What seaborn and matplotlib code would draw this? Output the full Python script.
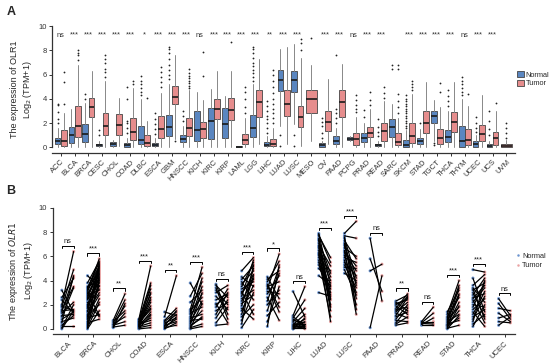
import matplotlib
matplotlib.use("Agg")
import matplotlib.pyplot as plt
from matplotlib.patches import Patch
import seaborn as sns
import pandas as pd

# ---- panel A: all TCGA cancers, normal vs tumor (box summaries) ----
cancers_a = ["ACC", "BLCA", "BRCA", "CESC", "CHOL", "COAD", "DLBC", "ESCA", "GBM",
             "HNSCC", "KICH", "KIRC", "KIRP", "LAML", "LGG", "LIHC", "LUAD", "LUSC",
             "MESO", "OV", "PAAD", "PCPG", "PRAD", "READ", "SARC", "SKCM", "STAD",
             "TGCT", "THCA", "THYM", "UCEC", "UCS", "UVM"]
sig_a = ["ns", "***", "***", "***", "***", "***", "*", "***", "***", "***", "ns", "***",
         "***", "***", "***", "**", "***", "***", "", "***", "***", "ns", "***", "***",
         "", "***", "***", "***", "***", "ns", "***", "***", ""]

# (whislo, q1, med, q3, whishi); None = no normal samples
normal_box = [
    (0, 0.25, 0.5, 0.8, 1.6), (0, 0.38, 1.0, 1.68, 3.2), (0, 0.45, 1.1, 1.95, 3.7),
    (0, 0.1, 0.2, 0.3, 0.5), (0, 0.1, 0.25, 0.45, 0.6), (0, 0.05, 0.2, 0.35, 0.8),
    (0, 0.25, 0.58, 1.8, 4.0), (0, 0.08, 0.2, 0.35, 0.8), (0, 0.9, 1.65, 2.65, 5.2),
    (0, 0.44, 0.72, 1.0, 1.8), (0, 0.52, 1.46, 3.0, 4.6), (0, 0.72, 2.2, 3.28, 4.8),
    (0, 0.8, 1.96, 3.28, 4.2), (0, 0.0, 0.04, 0.1, 0.15), (0, 0.85, 1.63, 2.64, 5.2),
    (0, 0.08, 0.2, 0.44, 0.9), (1.8, 4.64, 5.58, 6.35, 8.1), (1.9, 4.6, 5.52, 6.3, 8.5),
    None, (0, 0.05, 0.18, 0.33, 0.5), (0, 0.28, 0.55, 0.97, 1.6),
    (0.5, 0.6, 0.7, 0.83, 0.95), (0, 0.41, 0.77, 1.16, 2.0), (0, 0.08, 0.18, 0.28, 0.5),
    (0, 0.88, 1.66, 2.35, 3.6), (0, 0.05, 0.2, 0.6, 1.4), (0, 0.28, 0.5, 0.77, 1.5),
    (0.5, 2.05, 2.62, 3.02, 3.9), (0, 0.41, 0.83, 1.44, 3.0), (0, 0.05, 0.55, 1.8, 4.0),
    (0, 0.05, 0.25, 0.5, 1.0), (0, 0.05, 0.15, 0.28, 0.5), None,
]
normal_out = [
    [2.0, 2.3, 2.9, 3.5, 3.6], [], [4.0, 4.4], [1.0, 1.4], [],
    [1.2, 1.6, 2.0, 2.2, 4.0, 5.0], [4.3, 4.6, 4.9, 5.2, 5.5, 5.9], [1.1, 1.5, 1.9, 2.3, 2.8],
    [5.6, 6.0, 6.4, 6.8, 7.3, 7.8, 8.1, 8.3], [2.2, 2.6, 3.0], [], [], [], [],
    [5.5, 5.8, 6.1, 6.4, 6.7, 7.0, 7.4, 7.8, 8.1, 8.3], [1.2, 1.6, 2.0, 2.3, 2.6, 3.0, 3.4, 3.8],
    [0.1, 1.0], [0.1, 1.0], [], [0.8, 1.2, 1.8, 2.1, 2.4], [2.0, 2.4, 2.8, 3.2, 7.6], [],
    [2.5, 3.1], [0.9, 1.3, 1.7, 2.3], [6.5, 6.8],
    [1.6, 1.8, 2.0, 2.2, 2.4, 2.6, 2.8, 3.0, 3.2, 3.4, 3.6, 3.8, 4.0, 4.3], [2.0],
    [0.2, 0.4], [3.4, 3.8, 4.2, 4.7], [4.3, 4.6, 4.9, 5.2, 5.5, 5.8], [1.3, 1.6, 2.0, 2.5],
    [1.0, 1.5, 2.2, 3.0], [],
]
tumor_box = [
    (0, 0.15, 0.5, 1.4, 2.8), (0, 0.88, 1.78, 3.38, 6.8), (0, 2.5, 3.3, 4.1, 6.3),
    (0, 1.0, 1.8, 2.85, 5.5), (0.1, 1.05, 1.85, 2.75, 4.1), (0, 0.63, 1.3, 2.45, 4.9),
    (0, 0.15, 0.4, 1.0, 2.2), (0, 0.8, 1.55, 2.6, 4.5), (0.7, 3.6, 4.15, 5.05, 7.6),
    (0, 0.9, 1.63, 2.45, 4.7), (0, 0.8, 1.5, 2.1, 3.9), (0, 2.37, 3.2, 4.02, 6.3),
    (0, 2.28, 3.12, 4.07, 6.3), (0, 0.25, 0.63, 1.13, 2.4), (0.3, 2.5, 3.74, 4.7, 7.3),
    (0, 0.08, 0.3, 0.72, 1.6), (0.3, 2.57, 3.6, 4.7, 8.3), (0.1, 1.7, 2.54, 3.45, 7.4),
    (0.5, 2.82, 3.98, 4.7, 6.8), (0.3, 1.33, 2.13, 3.04, 5.6), (0, 2.54, 3.73, 4.7, 6.9),
    (0, 0.22, 0.69, 1.16, 2.5), (0, 0.83, 1.19, 1.7, 3.2), (0, 0.55, 1.38, 2.0, 3.8),
    (0, 0.22, 0.47, 1.22, 2.4), (0, 0.33, 0.97, 2.0, 4.4), (0, 1.16, 2.0, 2.96, 5.4),
    (0, 0.25, 0.77, 1.55, 3.3), (0, 1.24, 2.13, 2.9, 5.4), (0, 0.22, 0.6, 1.52, 3.4),
    (0, 0.55, 1.1, 1.88, 4.3), (0, 0.22, 0.75, 1.3, 3.0), (0, 0.05, 0.15, 0.28, 0.6),
]
tumor_out = [
    [3.6, 5.4, 6.2], [7.2, 7.6, 7.8, 8.0], [], [5.8, 6.2, 6.5, 7.0, 7.3, 7.6], [],
    [5.2, 5.5], [4.1], [5.0, 5.4, 5.8, 6.2, 6.6], [0.5],
    [4.9, 5.1, 5.3, 5.5, 5.7, 5.9, 6.1, 6.5], [5.9, 7.9], [], [8.7],
    [2.8, 3.3, 4.0, 4.6, 5.0], [], [2.0, 2.4, 2.8, 3.2, 3.6, 4.0, 4.5, 5.0, 5.5, 6.0, 6.4],
    [], [8.0, 8.6, 8.9], [9.0], [], [], [2.9, 3.2, 3.5, 3.9, 4.3], [3.5, 3.9, 4.6],
    [4.1, 4.5, 5.0], [2.8, 3.3, 3.8, 4.4, 6.5, 6.8], [4.7, 5.0, 5.2, 5.5], [],
    [4.6, 5.3], [], [4.4], [], [3.7], [0.8, 1.2, 1.6, 2.0],
]

# ---- panel B: paired normal/tumor samples ----
cancers_b = ["BLCA", "BRCA", "CHOL", "COAD", "ESCA", "HNSCC", "KICH", "KIRC", "KIRP",
             "LIHC", "LUAD", "LUSC", "PAAD", "PRAD", "READ", "STAD", "THCA", "UCEC"]
sig_b = ["ns", "***", "**", "***", "**", "***", "ns", "***", "*", "ns", "***", "***",
         "ns", "**", "ns", "***", "***", "ns"]
paired_normal = [
    [3.2, 2.6, 2.4, 2.0, 1.9, 1.8, 1.6, 1.5, 1.4, 1.3, 1.1, 1.0, 0.8, 0.6, 0.5, 0.3, 0.2, 0.1, 0.0],
    [4.4, 3.8, 3.5, 3.4, 3.3, 3.2, 3.0, 2.9, 2.7, 2.5, 2.4, 2.2, 2.0, 1.9, 1.7, 1.5, 1.4, 1.2,
     1.0, 0.9, 0.8, 0.6, 0.5, 0.4, 0.3, 0.2, 0.1, 0.0, 3.1, 2.6, 3.4, 2.8, 1.8, 1.1],
    [0.7, 0.6, 0.5, 0.4, 0.35, 0.3, 0.2, 0.15, 0.1],
    [0.8, 0.75, 0.7, 0.6, 0.55, 0.5, 0.45, 0.4, 0.35, 0.3, 0.3, 0.25, 0.2, 0.2, 0.15, 0.1,
     0.05, 0.0, 0.6, 0.4],
    [1.4, 1.0, 0.7, 0.6, 0.5, 0.4, 0.3, 0.25, 0.2, 0.1, 0.05, 0.0],
    [3.8, 2.7, 2.2, 1.6, 1.5, 1.4, 1.3, 1.2, 1.0, 0.9, 0.8, 0.7, 0.6, 0.5, 0.4, 0.3, 0.2,
     0.1, 0.05, 0.0],
    [3.7, 3.6, 3.4, 3.0, 2.7, 2.4, 2.1, 1.8, 1.5, 1.2, 0.9, 0.5, 0.3, 3.2, 2.0],
    [4.8, 4.3, 4.1, 3.9, 3.7, 3.5, 3.3, 3.1, 2.9, 2.7, 2.5, 2.3, 2.1, 1.9, 1.7, 1.5, 1.2,
     1.0, 0.7, 0.4, 0.1, 3.0],
    [4.3, 4.1, 3.9, 3.7, 3.5, 3.3, 3.1, 2.9, 2.6, 2.3, 2.0, 1.5, 1.1, 0.6, 0.2, 3.6],
    [3.1, 1.1, 1.0, 0.9, 0.8, 0.7, 0.6, 0.5, 0.4, 0.35, 0.3, 0.25, 0.2, 0.15, 0.1, 0.05, 0.0, 0.0],
    [7.9, 7.7, 7.5, 7.3, 7.1, 6.9, 6.7, 6.5, 6.3, 6.1, 5.9, 5.7, 5.5, 5.3, 5.0, 4.4, 3.0,
     7.8, 7.4, 6.8, 6.2],
    [7.9, 7.7, 7.5, 7.3, 7.1, 6.9, 6.7, 6.5, 6.3, 6.1, 5.9, 5.7, 5.5, 5.3, 5.1, 4.9, 4.6,
     7.6, 7.0, 6.4],
    [7.5, 5.8, 4.8, 0.1],
    [2.3, 2.2, 2.0, 1.9, 1.7, 1.6, 1.4, 1.3, 1.1, 1.0, 0.8, 0.7, 0.5, 0.4, 0.3, 2.1, 1.5],
    [0.6, 0.5, 0.45, 0.35, 0.3, 0.6],
    [1.4, 1.2, 1.0, 0.9, 0.8, 0.7, 0.6, 0.5, 0.4, 0.35, 0.3, 0.25, 0.2, 0.1, 0.05, 0.0],
    [4.9, 4.2, 3.6, 3.4, 3.2, 3.0, 2.8, 2.6, 2.4, 2.2, 2.0, 1.8, 1.6, 1.4, 1.2, 1.0, 0.8,
     0.6, 0.4, 0.2, 3.3, 2.5],
    [2.5, 2.1, 1.7, 1.3, 0.9, 0.6, 0.3],
]
paired_tumor = [
    [1.4, 4.2, 1.3, 6.4, 1.5, 4.9, 3.5, 1.6, 4.3, 2.2, 1.2, 3.4, 1.4, 0.9, 4.4, 1.1, 0.2, 2.0, 1.5],
    [3.5, 5.6, 4.0, 5.2, 4.8, 5.8, 1.1, 4.5, 5.0, 3.8, 4.2, 1.0, 4.6, 3.3, 4.9, 3.0, 5.3, 2.8,
     4.4, 1.2, 3.6, 5.4, 0.8, 2.5, 4.1, 3.9, 2.2, 1.5, 5.1, 4.7, 5.5, 3.2, 4.3, 2.0],
    [2.9, 1.5, 2.4, 1.0, 1.9, 0.6, 1.3, 0.3, 2.1],
    [5.2, 3.8, 3.3, 2.4, 2.9, 1.6, 3.6, 1.9, 1.2, 2.2, 0.9, 3.0, 0.5, 1.4, 2.6, 0.3, 1.1,
     0.1, 1.7, 0.7],
    [1.1, 4.4, 1.7, 1.4, 0.9, 1.2, 0.6, 1.5, 0.8, 0.3, 1.0, 0.5],
    [2.0, 4.6, 3.2, 5.1, 2.6, 3.9, 1.8, 4.2, 2.9, 1.2, 3.5, 0.8, 2.3, 1.5, 3.0, 0.9, 1.0,
     0.4, 2.1, 0.2],
    [1.2, 2.6, 0.8, 3.6, 1.6, 2.9, 0.5, 3.3, 2.2, 3.0, 2.4, 1.8, 0.4, 2.0, 2.8],
    [5.9, 3.5, 5.2, 2.4, 4.8, 5.5, 3.9, 1.2, 4.5, 5.7, 3.2, 4.1, 2.8, 5.0, 0.8, 3.6, 4.4,
     2.0, 3.0, 5.3, 1.6, 4.2],
    [2.5, 4.8, 5.6, 1.8, 3.9, 6.2, 2.9, 4.4, 0.7, 5.1, 3.2, 4.6, 2.2, 3.5, 5.3, 1.4],
    [1.0, 3.5, 0.3, 2.4, 0.2, 0.5, 1.7, 0.1, 0.4, 1.2, 0.0, 0.8, 0.15, 0.6, 0.3, 0.05, 0.9, 0.2],
    [3.5, 5.9, 2.4, 4.6, 1.5, 5.2, 3.0, 0.6, 4.0, 2.0, 4.8, 1.0, 3.3, 2.8, 3.8, 3.6, 2.7,
     5.5, 1.8, 4.3, 2.5],
    [8.9, 7.5, 4.2, 5.8, 2.5, 3.6, 6.0, 1.2, 4.8, 3.0, 5.5, 2.0, 4.4, 3.4, 5.0, 2.8, 4.0,
     1.6, 3.8, 5.2],
    [2.3, 3.1, 5.35, 4.4],
    [2.8, 1.5, 2.5, 1.2, 2.9, 1.8, 2.2, 0.9, 2.6, 1.4, 2.0, 0.6, 1.7, 1.0, 0.5, 2.4, 2.7],
    [1.8, 1.3, 0.4, 0.9, 0.3, 0.6],
    [3.2, 4.0, 2.6, 3.6, 1.8, 2.9, 1.2, 3.4, 0.7, 2.2, 1.5, 2.8, 0.9, 1.9, 0.3, 1.1],
    [4.7, 1.4, 4.5, 2.2, 3.8, 1.0, 4.2, 2.9, 0.5, 3.4, 1.8, 3.9, 2.5, 0.2, 3.1, 1.6, 2.7,
     4.0, 1.2, 2.0, 0.8, 3.6],
    [1.1, 0.8, 1.5, 0.6, 1.2, 0.5, 1.0],
]

BLUE = "#5a86c0"
RED = "#e68d8d"
BLUE_PT = "#6c94cf"
RED_PT = "#e9a3a3"
AX_COL = "#333333"

sns.set_theme(style="ticks")
plt.rcParams["font.family"] = ["Liberation Sans", "DejaVu Sans"]
plt.rcParams["axes.edgecolor"] = AX_COL
plt.rcParams["xtick.color"] = AX_COL
plt.rcParams["ytick.color"] = AX_COL

fig = plt.figure(figsize=(5.5, 3.63), dpi=100)
ax_a = fig.add_axes([0.095, 0.579, 0.841, 0.349])
ax_b = fig.add_axes([0.096, 0.079, 0.840, 0.348])


def to_stats(box, out):
    lo, q1, med, q3, hi = box
    return {"whislo": lo, "q1": q1, "med": med, "q3": q3, "whishi": hi, "fliers": out}


def draw_boxes(ax, stats, pos, width, color):
    ax.bxp(stats, positions=pos, widths=width, patch_artist=True, manage_ticks=False,
           boxprops=dict(facecolor=color, edgecolor="#444444", linewidth=0.6),
           medianprops=dict(color="#1a1a1a", linewidth=1.2),
           whiskerprops=dict(color="#888888", linewidth=0.7),
           capprops=dict(linewidth=0),
           flierprops=dict(marker="o", markersize=1.3, markerfacecolor="#222222",
                           markeredgecolor="none"))


# panel A boxes
n_stats, n_pos, t_stats, t_pos, solo_stats, solo_pos = [], [], [], [], [], []
for i, (nb, tb) in enumerate(zip(normal_box, tumor_box)):
    if nb is None:
        solo_stats.append(to_stats(tb, tumor_out[i]))
        solo_pos.append(i)
    else:
        n_stats.append(to_stats(nb, normal_out[i]))
        n_pos.append(i - 0.22)
        t_stats.append(to_stats(tb, tumor_out[i]))
        t_pos.append(i + 0.22)
draw_boxes(ax_a, n_stats, n_pos, 0.42, BLUE)
draw_boxes(ax_a, t_stats, t_pos, 0.42, RED)
draw_boxes(ax_a, solo_stats, solo_pos, 0.76, RED)

for i, s in enumerate(sig_a):
    if s:
        ax_a.text(i, 9.25, s, ha="center", va="center", fontsize=5.3, color="#333333")

ax_a.set_xlim(-0.6, len(cancers_a) - 0.4)
ax_a.set_ylim(-0.45, 10)
ax_a.set_xticks(range(len(cancers_a)))
ax_a.set_xticklabels(cancers_a, rotation=45, ha="right", rotation_mode="anchor")
ax_a.set_yticks([0, 2, 4, 6, 8, 10])
ax_a.set_ylabel("The expression of OLR1\nLog$_2$ (TPM+1)", fontsize=6.5, labelpad=3)
ax_a.legend(handles=[Patch(facecolor=BLUE, edgecolor="#444444", linewidth=0.6, label="Normal"),
                     Patch(facecolor=RED, edgecolor="#444444", linewidth=0.6, label="Tumor")],
            loc="center left", bbox_to_anchor=(1.0, 0.58), frameon=False, fontsize=5.3,
            borderaxespad=0.2, borderpad=0.1,
            handlelength=0.9, handleheight=0.8, handletextpad=0.3, labelspacing=0.2)

# panel B paired lines
rows = []
pair_id = 0
for i, c in enumerate(cancers_b):
    for nv, tv in zip(paired_normal[i], paired_tumor[i]):
        rows.append({"cancer": c, "group": "Normal", "x": i - 0.23, "value": nv, "pair": pair_id})
        rows.append({"cancer": c, "group": "Tumor", "x": i + 0.23, "value": tv, "pair": pair_id})
        pair_id += 1
df_b = pd.DataFrame(rows)

sns.scatterplot(data=df_b, x="x", y="value", hue="group",
                palette={"Normal": BLUE_PT, "Tumor": RED_PT}, s=5, linewidth=0,
                ax=ax_b, zorder=2)
sns.lineplot(data=df_b, x="x", y="value", units="pair", estimator=None, sort=False,
             color="black", linewidth=0.9, ax=ax_b, zorder=3, legend=False)

for i, s in enumerate(sig_b):
    top = max(paired_normal[i] + paired_tumor[i]) + 0.45
    ax_b.plot([i - 0.23, i - 0.23, i + 0.23, i + 0.23], [top - 0.18, top, top, top - 0.18],
              color="black", linewidth=0.7)
    ax_b.text(i, top + 0.05, s, ha="center", va="bottom", fontsize=5.3, color="#222222")

ax_b.set_xlim(-0.58, len(cancers_b) - 0.6)
ax_b.set_ylim(-0.45, 10)
ax_b.set_xticks(range(len(cancers_b)))
ax_b.set_xticklabels(cancers_b, rotation=45, ha="right", rotation_mode="anchor")
ax_b.set_yticks([0, 2, 4, 6, 8, 10])
ax_b.set_xlabel("")
ax_b.set_ylabel("The expression of $\\it{OLR1}$\nLog$_2$ (TPM+1)", fontsize=6.5, labelpad=3)
sns.move_legend(ax_b, "center left", bbox_to_anchor=(0.995, 0.58), frameon=False,
                title=None, fontsize=5.3, handletextpad=0.2, handlelength=0.8,
                labelspacing=0.3, borderaxespad=0.2, borderpad=0.1, markerscale=0.8)

for ax in (ax_a, ax_b):
    sns.despine(ax=ax)
    ax.spines["left"].set_linewidth(0.9)
    ax.spines["bottom"].set_linewidth(0.9)
    ax.tick_params(axis="both", labelsize=5.5, length=2.5, width=0.7, pad=1.5)
    ax.spines["left"].set_bounds(0, 10)

fig.text(0.012, 0.968, "A", fontsize=9, fontweight="bold", va="center")
fig.text(0.012, 0.475, "B", fontsize=9, fontweight="bold", va="center")

fig.savefig("out.png", dpi=100)
